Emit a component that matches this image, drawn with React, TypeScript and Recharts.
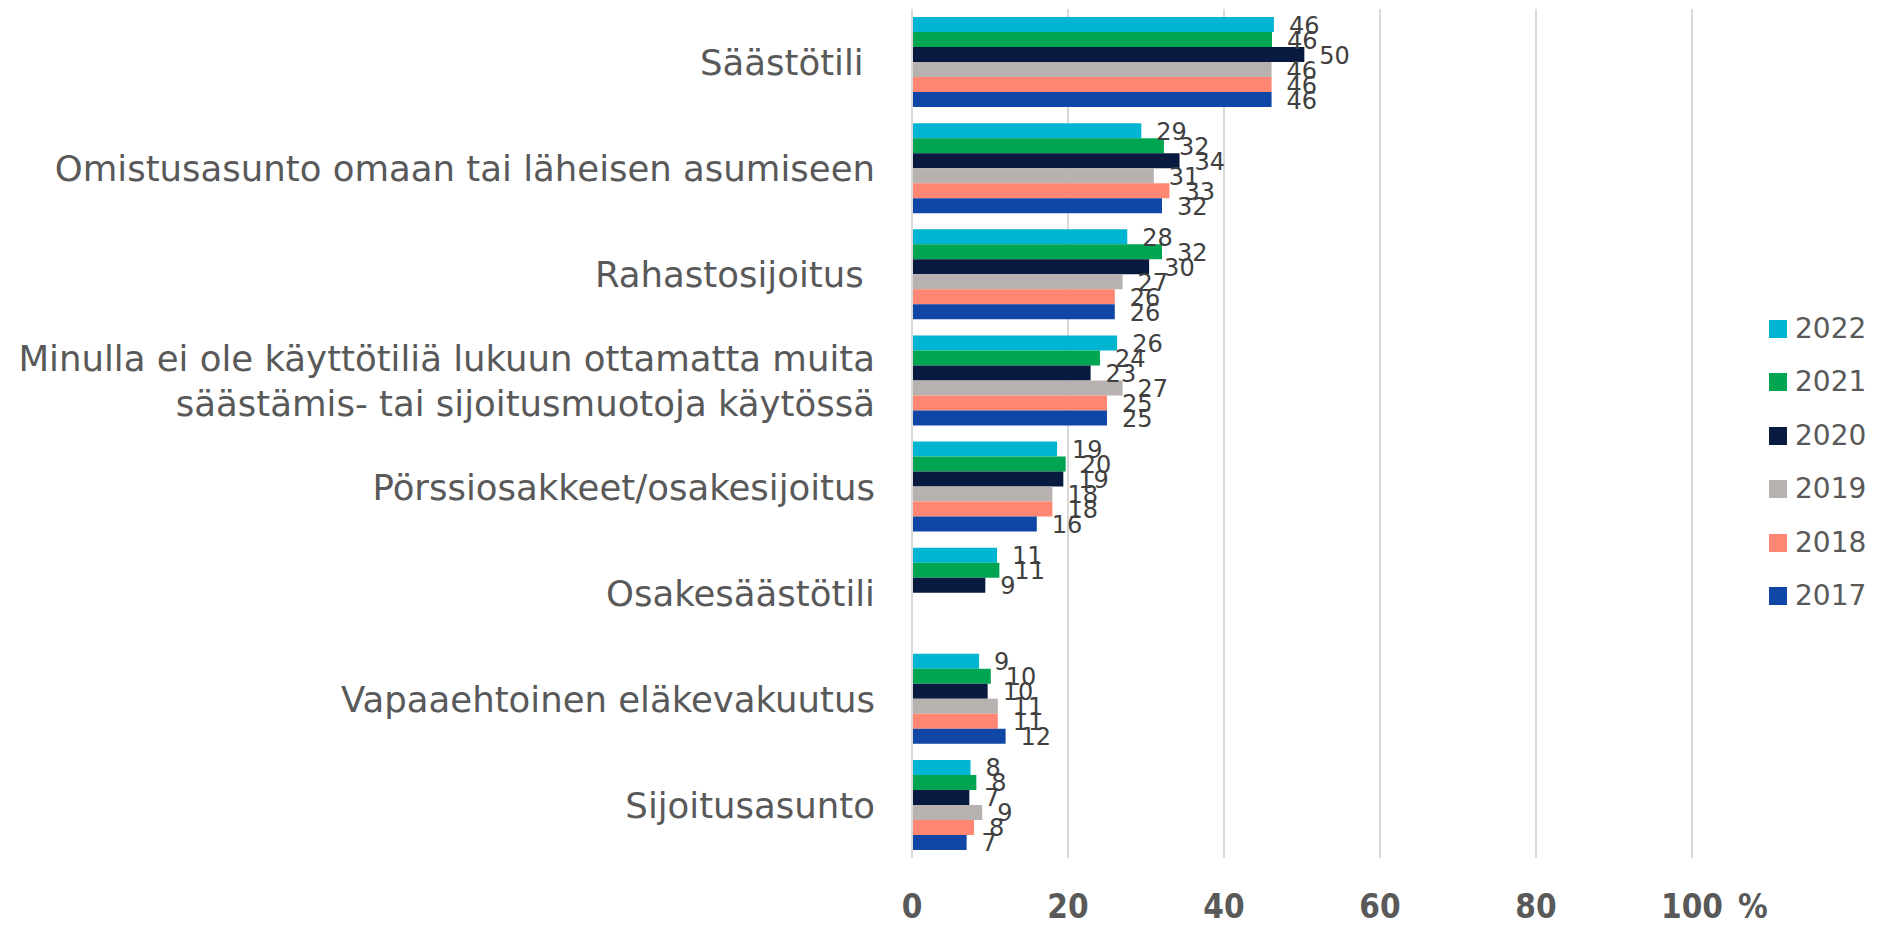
import React from "react";
import { BarChart, Bar, XAxis, YAxis, CartesianGrid, Legend, LabelList } from "recharts";

const categories = [
  "Säästötili ",
  "Omistusasunto omaan tai läheisen asumiseen",
  "Rahastosijoitus ",
  "Minulla ei ole käyttötiliä lukuun ottamatta muita\nsäästämis- tai sijoitusmuotoja käytössä",
  "Pörssiosakkeet/osakesijoitus",
  "Osakesäästötili",
  "Vapaaehtoinen eläkevakuutus",
  "Sijoitusasunto",
];

const years = ["2022", "2021", "2020", "2019", "2018", "2017"];

const v2022 = [46.4, 29.4, 27.6, 26.3, 18.6, 10.9, 8.6, 7.5];
const v2021 = [46.15, 32.3, 32.05, 24.1, 19.7, 11.2, 10.1, 8.25];
const v2020 = [50.3, 34.3, 30.4, 22.9, 19.4, 9.4, 9.7, 7.35];
const v2019 = [46.1, 31.0, 27.0, 27.0, 18.0, null, 11.0, 9.0];
const v2018 = [46.1, 33.0, 26.0, 25.0, 18.0, null, 11.0, 7.95];
const v2017 = [46.1, 32.05, 26.0, 25.0, 16.0, null, 12.0, 7.0];

const xTicks = [0, 20, 40, 60, 80, 100];
const unitLabel = "%";

const colors: Record<string, string> = {
  "2022": "#00B5D1",
  "2021": "#00A551",
  "2020": "#081A40",
  "2019": "#B7B2AF",
  "2018": "#FF8672",
  "2017": "#1046A5",
};

const seriesValues: Record<string, (number | null)[]> = {
  "2022": v2022,
  "2021": v2021,
  "2020": v2020,
  "2019": v2019,
  "2018": v2018,
  "2017": v2017,
};

const data = categories.map((name, i) => {
  const row: Record<string, any> = { name };
  years.forEach((y) => {
    row[y] = seriesValues[y][i];
  });
  return row;
});

const TEXT_FONT = "'DejaVu Sans', sans-serif";
const BOLD_FONT = "'DejaVu Sans Condensed', 'DejaVu Sans', sans-serif";

const CategoryTick = (props: any) => {
  const { x, y, payload } = props;
  const lines = String(payload.value).split("\n");
  const lh = 45;
  const startDy = -((lines.length - 1) * lh) / 2;
  return (
    <g>
      {lines.map((ln, i) => (
        <text
          key={i}
          x={x}
          y={y + startDy + i * lh}
          dy="0.37em"
          textAnchor="end"
          fill="#595959"
          fontSize={35.5}
          fontFamily={TEXT_FONT}
          style={{ whiteSpace: "pre" }}
        >
          {ln}
        </text>
      ))}
    </g>
  );
};

const ValueTick = (props: any) => {
  const { x, payload } = props;
  const y = 918;
  const isLast = payload.value === xTicks[xTicks.length - 1];
  return (
    <g>
      <text
        x={x}
        y={y}
        textAnchor="middle"
        fill="#595959"
        fontSize={33}
        fontWeight="bold"
        fontFamily={BOLD_FONT}
        style={{ fontStretch: "condensed" }}
      >
        {String(payload.value)}
      </text>
      {isLast ? (
        <text
          x={x + 46}
          y={y}
          textAnchor="start"
          fill="#595959"
          fontSize={33}
          fontWeight="bold"
          fontFamily={BOLD_FONT}
          style={{ fontStretch: "condensed" }}
        >
          {unitLabel}
        </text>
      ) : null}
    </g>
  );
};

const BarValueLabel = (props: any) => {
  const { x, y, width, height, value } = props;
  if (value === null || value === undefined) return null;
  return (
    <text
      x={x + width + 15}
      y={y + height / 2}
      dy="0.38em"
      textAnchor="start"
      fill="#404040"
      fontSize={24}
      fontFamily={TEXT_FONT}
    >
      {Math.round(value)}
    </text>
  );
};

const LegendContent = (props: any) => {
  const payload: any[] = props.payload || [];
  const ordered = years
    .map((y) => payload.find((p) => String(p.value) === y))
    .filter(Boolean);
  return (
    <div>
      {ordered.map((p: any) => (
        <div
          key={p.value}
          style={{ display: "flex", alignItems: "center", height: 53.5 }}
        >
          <div style={{ width: 18, height: 18, background: p.color, marginRight: 8 }} />
          <span style={{ fontFamily: TEXT_FONT, fontSize: 28, color: "#595959", lineHeight: "28px" }}>
            {p.value}
          </span>
        </div>
      ))}
    </div>
  );
};

export default function App() {
  return (
    <div style={{ position: "absolute", left: 0, top: 0, background: "#fff" }}>
      <BarChart
        width={1878}
        height={926}
        data={data}
        layout="vertical"
        margin={{ top: 9, right: 186, bottom: 0, left: 0 }}
        barCategoryGap={8}
        barGap={0}
      >
        <CartesianGrid horizontal={false} vertical={true} stroke="#D9D9D9" strokeWidth={2} />
        <XAxis
          type="number"
          domain={[0, 100]}
          ticks={xTicks}
          interval={0}
          axisLine={false}
          tickLine={false}
          tickSize={0}
          tickMargin={0}
          height={68}
          tick={<ValueTick />}
        />
        <YAxis
          type="category"
          dataKey="name"
          width={912}
          axisLine={{ stroke: "#D9D9D9", strokeWidth: 2 }}
          tickLine={false}
          tickSize={0}
          tickMargin={37}
          interval={0}
          tick={<CategoryTick />}
        />
        <Legend
          layout="vertical"
          verticalAlign="middle"
          align="center"
          content={<LegendContent />}
          wrapperStyle={{ position: "absolute", left: 1769, top: 302, width: 120 }}
        />
        {years.map((y) => (
          <Bar key={y} dataKey={y} name={y} fill={colors[y]} isAnimationActive={false}>
            <LabelList dataKey={y} content={<BarValueLabel />} />
          </Bar>
        ))}
      </BarChart>
    </div>
  );
}
